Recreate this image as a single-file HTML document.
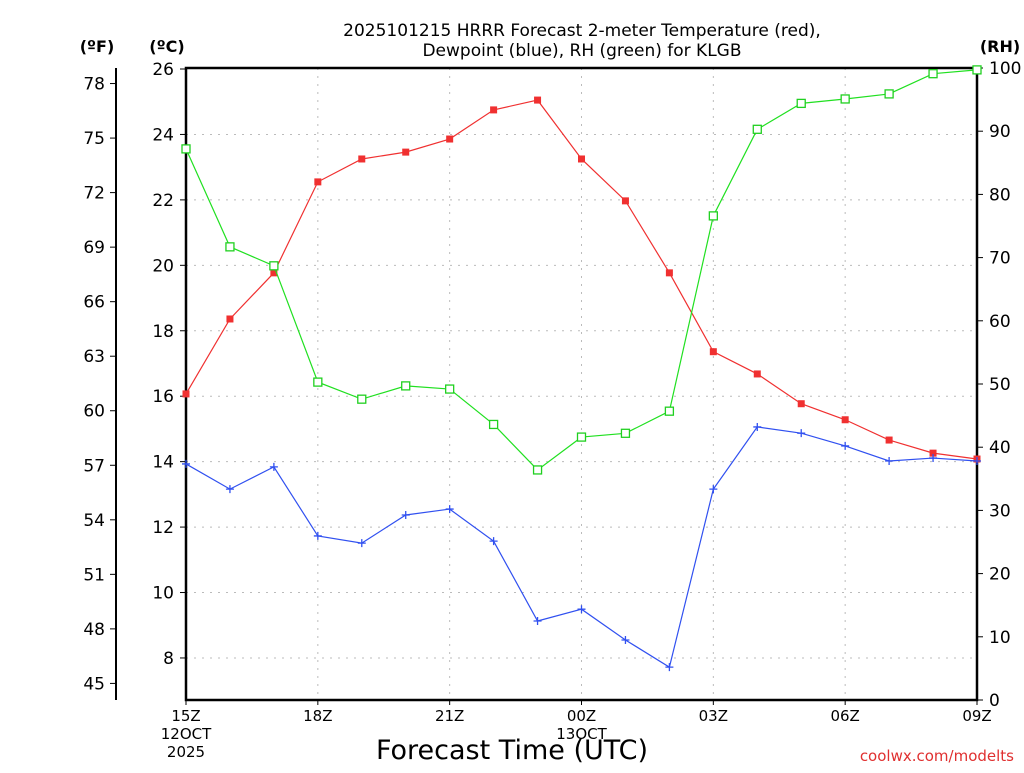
<!DOCTYPE html>
<html><head><meta charset="utf-8"><style>
body{margin:0;background:#fff}
svg text{font-family:"DejaVu Sans","Liberation Sans",sans-serif;fill:#000}
</style></head><body>
<svg id="c" width="1024" height="768" xmlns="http://www.w3.org/2000/svg">
<text x="582" y="36" font-size="17" text-anchor="middle">2025101215 HRRR Forecast 2-meter Temperature (red),</text>
<text x="582" y="56" font-size="17" text-anchor="middle">Dewpoint (blue), RH (green) for KLGB</text>
<text x="97" y="52" font-size="16" font-weight="bold" text-anchor="middle">(ºF)</text>
<text x="167" y="52" font-size="16" font-weight="bold" text-anchor="middle">(ºC)</text>
<text x="1000" y="52" font-size="16" font-weight="bold" text-anchor="middle">(RH)</text>
<text x="512" y="759" font-size="27" text-anchor="middle">Forecast Time (UTC)</text>
<text x="1014" y="761" font-size="15" text-anchor="end" style="fill:#e03030">coolwx.com/modelts</text>
<g id="grid"></g><g id="axes"></g><g id="series"></g>
</svg>
<script>
const hours=[0,1,2,3,4,5,6,7,8,9,10,11,12,13,14,15,16,17,18];
const tempC=[16.07,18.36,19.77,22.55,23.25,23.46,23.86,24.75,25.05,23.25,21.97,19.77,17.36,16.68,15.77,15.28,14.66,14.26,14.08];
const dewC=[13.93,13.16,13.84,11.73,11.51,12.37,12.55,11.57,9.13,9.49,8.55,7.72,13.16,15.06,14.87,14.48,14.02,14.11,14.02];
const rh=[87.2,71.7,68.7,50.3,47.6,49.7,49.2,43.6,36.4,41.6,42.2,45.7,76.6,90.3,94.4,95.1,95.9,99.1,99.7];
const cTicks=[8,10,12,14,16,18,20,22,24,26];
const fTicks=[45,48,51,54,57,60,63,66,69,72,75,78];
const rhTicks=[0,10,20,30,40,50,60,70,80,90,100];
const xTicks=[0,3,6,9,12,15,18];
const xLabels=["15Z","18Z","21Z","00Z","03Z","06Z","09Z"];
const X0=186,X1=977,Y0=68,Y1=700;
const x=h=>X0+(X1-X0)*h/18;
const yC=v=>69+(26-v)*32.72;
const yF=f=>yC((f-32)/1.8);
const yR=r=>Y1-(Y1-Y0)*r/100;
const NS="http://www.w3.org/2000/svg";
function mk(p,t,a){const e=document.createElementNS(NS,t);for(const k in a)e.setAttribute(k,a[k]);p.appendChild(e);return e;}
const G=document.getElementById('grid'),A=document.getElementById('axes'),S=document.getElementById('series');
xTicks.forEach((h,i)=>{
 if(h>0&&h<18){const l=mk(G,'line',{x1:x(h),x2:x(h),y1:Y0,y2:Y1,stroke:'#bbb','stroke-dasharray':'2,6'});
 }
 const tk=mk(A,'line',{x1:x(h),x2:x(h),y1:Y1,y2:Y1+5,stroke:'#000'});
 
 const t=mk(A,'text',{x:x(h),y:721,'font-size':15,'text-anchor':'middle'});t.textContent=xLabels[i];
 
});
[["12OCT",0,739],["2025",0,757],["13OCT",9,739]].forEach(d=>{const t=mk(A,'text',{x:x(d[1]),y:d[2],'font-size':15,'text-anchor':'middle'});t.textContent=d[0];
 });
cTicks.forEach(v=>{
 if(v<26){const l=mk(G,'line',{x1:X0,x2:X1,y1:yC(v),y2:yC(v),stroke:'#bbb','stroke-dasharray':'2,6'});
 }
 const tk=mk(A,'line',{x1:X0-6,x2:X0,y1:yC(v),y2:yC(v),stroke:'#000'});
 
 const t=mk(A,'text',{x:X0-12,y:yC(v)+6,'font-size':17,'text-anchor':'end',fill:'#333'});t.textContent=v;
 
});
const fl=mk(A,'line',{x1:116,x2:116,y1:68,y2:700,stroke:'#000','stroke-width':2});

fTicks.forEach(v=>{
 const tk=mk(A,'line',{x1:110,x2:116,y1:yF(v),y2:yF(v),stroke:'#000'});
 
 const t=mk(A,'text',{x:105,y:yF(v)+6,'font-size':17,'text-anchor':'end',fill:'#333'});t.textContent=v;
 
});
rhTicks.forEach(v=>{
 const tk=mk(A,'line',{x1:X1,x2:X1+6,y1:yR(v),y2:yR(v),stroke:'#000'});
 
 const t=mk(A,'text',{x:X1+12,y:yR(v)+6,'font-size':17,'text-anchor':'start',fill:'#333'});t.textContent=v;
 
});
const fr=mk(A,'rect',{x:X0,y:Y0,width:X1-X0,height:Y1-Y0,fill:'none',stroke:'#000','stroke-width':2.5});

function line(vals,fy,col,name){
 const pl=mk(S,'polyline',{points:vals.map((v,i)=>x(hours[i])+','+fy(v)).join(' '),fill:'none',stroke:col,'stroke-width':1.2});
 
}
line(tempC,yC,'#f03030','temperature');
tempC.forEach((v,i)=>{const r=mk(S,'rect',{x:x(hours[i])-3.5,y:yC(v)-3.5,width:7,height:7,fill:'#f03030'});
 });
line(dewC,yC,'#3050f0','dewpoint');
dewC.forEach((v,i)=>{const px=x(hours[i]),py=yC(v);const p=mk(S,'path',{d:`M${px-4},${py}H${px+4}M${px},${py-4}V${py+4}`,stroke:'#3050f0','stroke-width':1.3});
 });
line(rh,yR,'#20e020','rh');
rh.forEach((v,i)=>{const r=mk(S,'rect',{x:x(hours[i])-4,y:yR(v)-4,width:8,height:8,fill:'#fff',stroke:'#20d020','stroke-width':1.3});
 });
</script>
</body></html>
